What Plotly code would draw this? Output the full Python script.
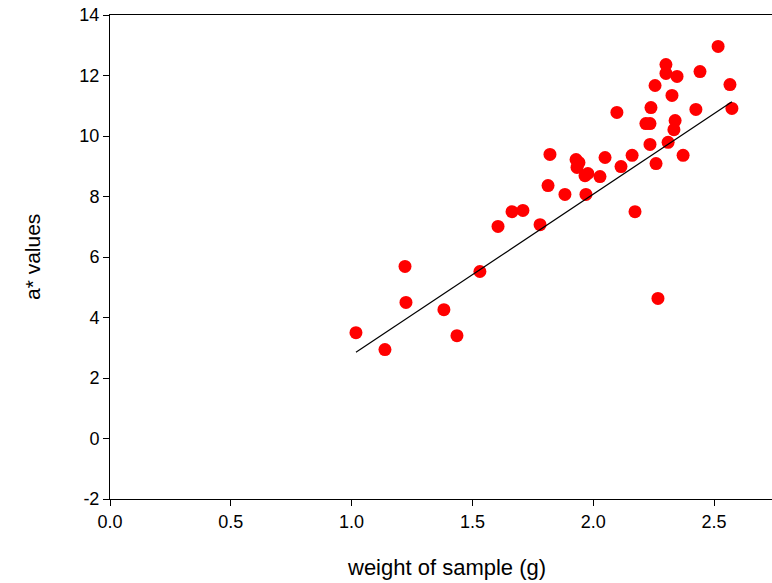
import plotly.graph_objects as go

weight = [1.018, 1.138, 1.221, 1.225, 1.382, 1.436, 1.531, 1.606, 1.664, 1.709,
          1.780, 1.813, 1.821, 1.883, 1.929, 1.941, 1.933, 1.966, 1.978, 1.970,
          2.028, 2.049, 2.115, 2.098, 2.161, 2.173, 2.218, 2.235, 2.235, 2.239,
          2.256, 2.260, 2.268, 2.301, 2.301, 2.310, 2.326, 2.334, 2.339, 2.347,
          2.372, 2.425, 2.442, 2.517, 2.566, 2.574]
a_values = [3.50, 2.94, 5.69, 4.50, 4.26, 3.40, 5.52, 7.01, 7.50, 7.54,
            7.07, 8.36, 9.39, 8.07, 9.22, 9.12, 8.96, 8.69, 8.76, 8.07,
            8.66, 9.29, 8.99, 10.78, 9.36, 7.50, 10.41, 10.41, 9.72, 10.94,
            11.67, 9.09, 4.63, 12.36, 12.07, 9.79, 11.34, 10.21, 10.51, 11.97,
            9.36, 10.88, 12.13, 12.96, 11.70, 10.91]

fit_x = [1.018, 2.574]
fit_y = [2.85, 11.13]

x_ticks = [0.0, 0.5, 1.0, 1.5, 2.0, 2.5]
x_tick_labels = ["0.0", "0.5", "1.0", "1.5", "2.0", "2.5"]
y_ticks = [-2, 0, 2, 4, 6, 8, 10, 12, 14]
y_tick_labels = ["-2", "0", "2", "4", "6", "8", "10", "12", "14"]

fig = go.Figure()
fig.add_trace(go.Scatter(x=weight, y=a_values, mode="markers",
                         marker=dict(color="#ff0000", size=13, line=dict(width=0)),
                         showlegend=False))
fig.add_trace(go.Scatter(x=fit_x, y=fit_y, mode="lines",
                         line=dict(color="black", width=1.2), showlegend=False))

fam = "Liberation Sans, Arial, sans-serif"
fig.update_layout(
    width=772, height=583,
    margin=dict(l=110, r=0, t=15, b=84),
    plot_bgcolor="white", paper_bgcolor="white",
    font=dict(family=fam, size=18, color="black"),
    xaxis=dict(range=[0, 2.74], tickvals=x_ticks, ticktext=x_tick_labels,
               showgrid=False, zeroline=False, showline=True, linecolor="black",
               linewidth=1, mirror=True, ticks="outside", ticklen=6, tickcolor="black"),
    yaxis=dict(range=[-2, 14], tickvals=y_ticks, ticktext=y_tick_labels,
               showgrid=False, zeroline=False, showline=True, linecolor="black",
               linewidth=1, ticks="outside", ticklen=6, tickcolor="black"),
    annotations=[
        dict(text="weight of sample (g)", xref="paper", yref="paper",
             x=0.5076, y=-0.1405, xanchor="center", yanchor="middle",
             showarrow=False, font=dict(family=fam, size=22, color="black")),
        dict(text="a* values", xref="paper", yref="paper",
             x=-0.1178, y=0.5, xanchor="center", yanchor="middle", textangle=-90,
             showarrow=False, font=dict(family=fam, size=21, color="black")),
    ],
)
fig.write_html("out.html")
